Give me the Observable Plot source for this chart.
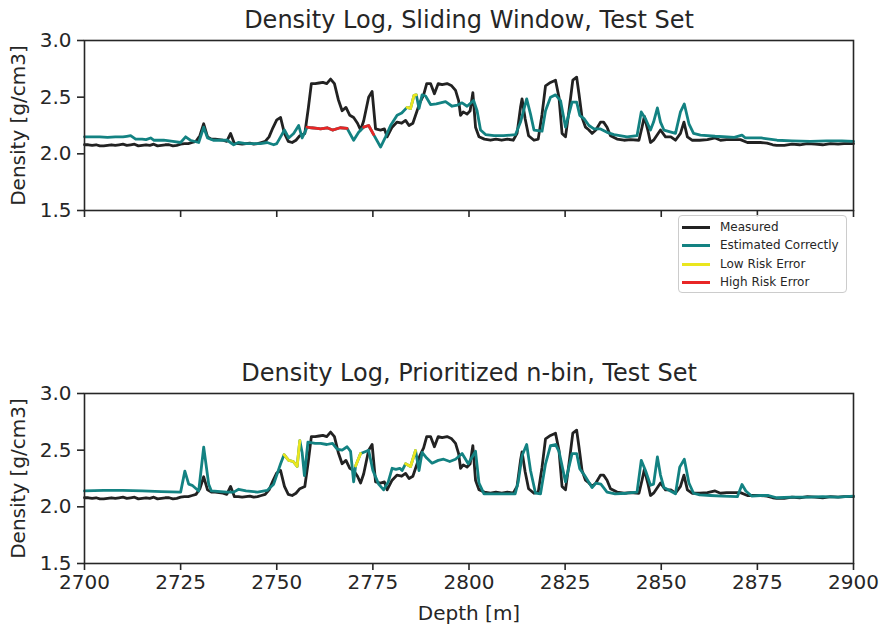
<!DOCTYPE html>
<html>
<head>
<meta charset="utf-8">
<script src="https://cdn.jsdelivr.net/npm/d3@7"></script>
<script src="https://cdn.jsdelivr.net/npm/@observablehq/plot@0.6"></script>
<style>
  html, body { margin: 0; padding: 0; background: #fff; }
  #chart { position: relative; width: 883px; height: 628px; font-family: "DejaVu Sans", sans-serif; color: #262626; }
  #chart svg { position: absolute; left: 0; }
  .legend { position: absolute; left: 678px; top: 215px; width: 167px; height: 76px; border: 1px solid #cccccc; border-radius: 4px; background: rgba(255,255,255,0.85); font-size: 12px; }
  .legend .row { position: absolute; left: 0; height: 16px; line-height: 16px; white-space: nowrap; }
  .legend .sw { position: absolute; left: 3px; top: 7px; width: 28px; height: 3px; }
  .legend .lab { position: absolute; left: 41px; top: 0; }
</style>
</head>
<body>
<div id="chart"></div>
<script>
// ---------- data ----------
const xTicks = [2700, 2725, 2750, 2775, 2800, 2825, 2850, 2875, 2900];
const yTicks = [1.5, 2.0, 2.5, 3.0];
const titles = ["Density Log, Sliding Window, Test Set", "Density Log, Prioritized n-bin, Test Set"];
const seriesNames = ["Measured", "Estimated Correctly", "Low Risk Error", "High Risk Error"];
const seriesColors = ["#222222", "#138282", "#eae61e", "#e82626"];

const measuredDepth = [2700,2701,2702,2703,2704,2705,2706,2707,2708,2709,2710,2711,2712,2713,2714,2715,2716,2717,2718,2719,2720,2721,2722,2723,2724,2725,2726,2727,2728,2729,2730,2731,2732,2733,2734,2735,2736,2737,2738,2739,2740,2741,2742,2743,2744,2745,2746,2747,2748,2749,2750,2751,2752,2753,2754,2755,2756,2757.3,2758.2,2759,2760,2761,2762,2763,2764,2765,2766,2767,2768,2769,2770,2771,2771.8,2772.6,2773.9,2774.8,2775.7,2777,2778,2778.7,2780,2781.3,2782.5,2783.5,2784.4,2785.4,2786.5,2787.2,2788.2,2789,2790,2791,2792,2793,2794.3,2795.5,2796.5,2797.3,2797.8,2798.5,2799.5,2800.3,2801,2801.7,2802.6,2804,2805.6,2807,2808.5,2810,2811.5,2812.5,2813.4,2813.8,2814.6,2815.5,2816.9,2818,2819,2819.9,2821.2,2822.5,2823.4,2824.2,2825.1,2826,2827,2828,2828.6,2829.4,2830.3,2831.2,2832,2833,2834.2,2835,2835.9,2836.8,2838.5,2840.3,2842,2844.2,2845,2845.6,2846.5,2847.2,2848,2849.8,2851.1,2852.5,2853.7,2855,2855.9,2856.8,2858,2860,2862,2864,2865.4,2867,2869,2870.6,2872.4,2874,2875.8,2877.5,2879,2880,2882,2884,2886,2888,2890,2892,2894,2896,2897.5,2900];
const measuredDensity = [2.08,2.08,2.075,2.08,2.07,2.07,2.075,2.08,2.075,2.08,2.085,2.075,2.08,2.085,2.07,2.075,2.08,2.075,2.085,2.07,2.075,2.08,2.08,2.07,2.075,2.085,2.09,2.09,2.10,2.11,2.16,2.265,2.15,2.13,2.13,2.125,2.12,2.11,2.18,2.09,2.09,2.085,2.09,2.095,2.085,2.09,2.10,2.11,2.15,2.23,2.30,2.32,2.18,2.11,2.10,2.12,2.16,2.18,2.40,2.62,2.62,2.625,2.63,2.62,2.66,2.62,2.48,2.38,2.41,2.34,2.32,2.27,2.21,2.29,2.50,2.55,2.22,2.21,2.22,2.15,2.235,2.28,2.27,2.295,2.25,2.27,2.38,2.45,2.52,2.62,2.62,2.53,2.62,2.61,2.62,2.60,2.56,2.47,2.34,2.37,2.35,2.38,2.54,2.235,2.15,2.13,2.12,2.13,2.12,2.13,2.12,2.18,2.41,2.485,2.31,2.16,2.12,2.13,2.35,2.60,2.63,2.65,2.50,2.18,2.15,2.38,2.65,2.676,2.53,2.32,2.235,2.21,2.18,2.21,2.28,2.28,2.235,2.16,2.13,2.12,2.125,2.12,2.235,2.33,2.21,2.10,2.12,2.21,2.15,2.15,2.12,2.18,2.28,2.15,2.12,2.12,2.125,2.14,2.12,2.125,2.125,2.125,2.10,2.10,2.10,2.095,2.08,2.075,2.075,2.085,2.08,2.09,2.085,2.08,2.09,2.085,2.09,2.09];

// Top panel (Sliding Window) estimate
const topEstDepth = [2700,2702,2704,2706,2708,2710,2711,2712,2713.3,2715,2716,2717.2,2718,2720.6,2723,2725,2726.3,2727.5,2729.7,2731,2732,2733.5,2735,2737.1,2738.8,2740,2742,2744,2745.8,2747.5,2749.2,2750,2751,2752,2753.1,2754.4,2755.7,2756.6,2757.3,2757.9,2759,2760.5,2761.4,2763.1,2764.5,2766.5,2768.3,2770,2771.3,2772.6,2773.9,2775.2,2777,2778.3,2779.6,2781.3,2782.5,2783.9,2784.8,2785.7,2786.3,2787,2787.8,2788.7,2790,2791.5,2793.9,2795.6,2797,2798.2,2799.5,2801.2,2802.1,2803,2804.3,2806.5,2809,2812.1,2813.4,2815,2816,2816.9,2819,2819.9,2821.2,2822.5,2823.8,2825.1,2826.8,2828,2828.8,2829.9,2831.2,2832.5,2834.2,2835.9,2837.7,2841.1,2843.7,2844.8,2845.9,2847.2,2848,2849,2849.8,2850.7,2853.7,2855,2856,2857.2,2858.4,2860.2,2864,2867.1,2869,2871,2871.9,2876,2880.1,2884,2888.8,2893,2897,2900];
const topEstDensity = [2.15,2.15,2.15,2.145,2.15,2.15,2.155,2.16,2.13,2.13,2.125,2.14,2.12,2.12,2.11,2.10,2.15,2.12,2.10,2.235,2.14,2.12,2.12,2.12,2.08,2.10,2.09,2.09,2.09,2.10,2.08,2.09,2.15,2.21,2.14,2.18,2.25,2.14,2.19,2.235,2.23,2.225,2.22,2.23,2.21,2.23,2.225,2.12,2.19,2.235,2.25,2.17,2.06,2.15,2.25,2.34,2.36,2.41,2.40,2.515,2.52,2.40,2.52,2.51,2.435,2.44,2.46,2.42,2.43,2.45,2.42,2.47,2.38,2.21,2.17,2.16,2.16,2.17,2.28,2.485,2.35,2.21,2.20,2.38,2.50,2.52,2.47,2.235,2.456,2.456,2.34,2.31,2.25,2.22,2.22,2.19,2.17,2.15,2.16,2.37,2.31,2.21,2.28,2.405,2.28,2.21,2.18,2.37,2.44,2.265,2.18,2.165,2.155,2.15,2.145,2.165,2.14,2.14,2.12,2.115,2.11,2.115,2.115,2.11];
// Top panel error segments
const topErrSegment = [1,1,1,1,1,1,1,1, 2,2,2, 3,3,3,3];
const topErrType    = ["High Risk Error","High Risk Error","High Risk Error","High Risk Error","High Risk Error","High Risk Error","High Risk Error","High Risk Error","High Risk Error","High Risk Error","High Risk Error","Low Risk Error","Low Risk Error","Low Risk Error","Low Risk Error"];
const topErrDepth   = [2757.9,2759,2760.5,2761.4,2763.1,2764.5,2766.5,2768.3, 2772.6,2773.9,2775.2, 2783.9,2784.8,2785.7,2786.3];
const topErrDensity = [2.235,2.23,2.225,2.22,2.23,2.21,2.23,2.225, 2.235,2.25,2.17, 2.41,2.40,2.515,2.52];

// Bottom panel (Prioritized n-bin) estimate
const botEstDepth = [2700,2705,2710,2715,2720,2725,2726.1,2727.1,2728,2729.7,2731,2732.3,2733,2737,2738.8,2740.1,2742,2745,2747.5,2749.2,2751,2751.9,2753.1,2754.3,2755.3,2756,2756.6,2757.2,2758.1,2760,2761.4,2763,2764.5,2765.7,2767,2768.3,2769.2,2770,2770.5,2771.8,2772.5,2773.9,2775,2776.5,2777.8,2779,2780,2781,2782,2782.6,2783.5,2784.8,2786.1,2787,2787.8,2789,2790.4,2792,2793.4,2795,2796.5,2798.2,2799.8,2801.7,2802.6,2803.9,2807,2810,2812,2812.8,2813.8,2815,2816,2817.3,2818.6,2819.9,2821.2,2822.5,2823.4,2825.1,2826.8,2828,2828.8,2830,2832,2833,2834.3,2835.9,2838,2841,2843.7,2844.8,2845.9,2847.2,2848,2849,2849.8,2850.7,2853.7,2854.8,2856,2857.2,2858.4,2860,2862.8,2866,2869.8,2871,2872,2873.5,2875.8,2877.9,2880,2884,2888,2892,2896,2900];
const botEstDensity = [2.14,2.145,2.145,2.14,2.135,2.13,2.315,2.20,2.19,2.14,2.526,2.20,2.14,2.13,2.13,2.155,2.14,2.13,2.145,2.20,2.38,2.46,2.41,2.40,2.356,2.585,2.48,2.276,2.57,2.56,2.56,2.55,2.56,2.51,2.50,2.53,2.49,2.22,2.36,2.47,2.48,2.50,2.32,2.20,2.15,2.22,2.34,2.33,2.34,2.32,2.38,2.356,2.497,2.32,2.48,2.43,2.385,2.41,2.42,2.40,2.42,2.47,2.38,2.49,2.21,2.115,2.115,2.115,2.115,2.22,2.45,2.55,2.32,2.12,2.115,2.38,2.54,2.55,2.49,2.22,2.47,2.47,2.336,2.28,2.17,2.21,2.20,2.13,2.115,2.12,2.13,2.41,2.32,2.19,2.20,2.44,2.28,2.17,2.115,2.35,2.42,2.21,2.12,2.105,2.10,2.095,2.09,2.197,2.14,2.095,2.10,2.10,2.08,2.085,2.085,2.09,2.085,2.095];
// Bottom panel error segments
const botErrSegment = [1,1,1,1,1, 2,2, 3,3,3];
const botErrType    = ["Low Risk Error","Low Risk Error","Low Risk Error","Low Risk Error","Low Risk Error","Low Risk Error","Low Risk Error","Low Risk Error","Low Risk Error","Low Risk Error"];
const botErrDepth   = [2751.9,2753.1,2754.3,2755.3,2756, 2770.5,2771.8, 2783.5,2784.8,2786.1];
const botErrDensity = [2.46,2.41,2.40,2.356,2.585, 2.36,2.47, 2.38,2.356,2.497];

// ---------- drawing ----------
const ink = "#262626";
const colorOf = Object.fromEntries(seriesNames.map((n, i) => [n, seriesColors[i]]));
const toRows = (xs, ys) => xs.map((x, i) => ({depth: x, density: ys[i]}));

function panel({title, estDepth, estDensity, errSeg, errType, errDepth, errDensity, showX, height, marginBottom}) {
  const measured = toRows(measuredDepth, measuredDensity);
  const est = toRows(estDepth, estDensity);
  const err = errDepth.map((x, i) => ({depth: x, density: errDensity[i], seg: errSeg[i], type: errType[i]}));
  const marks = [
    Plot.axisY({ticks: yTicks, tickFormat: d3.format(".1f"), tickSize: 7, tickPadding: 6, fontSize: 20, label: null, stroke: ink, strokeWidth: 1.6}),
    Plot.axisX({ticks: xTicks, tickSize: 7, tickPadding: 4, fontSize: 20, label: null, stroke: ink, strokeWidth: 1.6,
                tickFormat: showX ? (d => String(d)) : (() => "")}),
    Plot.line(measured, {x: "depth", y: "density", stroke: colorOf["Measured"], strokeWidth: 2.8, strokeLinejoin: "round"}),
    Plot.line(est, {x: "depth", y: "density", stroke: colorOf["Estimated Correctly"], strokeWidth: 2.8, strokeLinejoin: "round"}),
    Plot.line(err, {x: "depth", y: "density", z: "seg", stroke: d => colorOf[d.type], strokeWidth: 2.8, strokeLinejoin: "round"}),
    Plot.frame({stroke: ink, strokeWidth: 1.6}),
    Plot.text([title], {frameAnchor: "top", lineAnchor: "top", dy: -30, fontSize: 24, fill: ink}),
    Plot.text(["Density [g/cm3]"], {frameAnchor: "left", textAnchor: "middle", lineAnchor: "middle", dx: -66, rotate: -90, fontSize: 20, fill: ink})
  ];
  if (showX) marks.push(Plot.text(["Depth [m]"], {frameAnchor: "bottom", lineAnchor: "middle", dy: 50, fontSize: 20, fill: ink}));
  return Plot.plot({
    width: 883, height,
    marginLeft: 84, marginRight: 30, marginTop: 40, marginBottom,
    x: {domain: [2700, 2900]},
    y: {domain: [1.5, 3.0]},
    style: {fontFamily: "DejaVu Sans", fontSize: "20px", color: ink, background: "transparent", overflow: "visible"},
    marks
  });
}

const root = document.getElementById("chart");
const topPanel = panel({title: titles[0], estDepth: topEstDepth, estDensity: topEstDensity,
  errSeg: topErrSegment, errType: topErrType, errDepth: topErrDepth, errDensity: topErrDensity,
  showX: false, height: 235, marginBottom: 25});
topPanel.style.top = "0px";
root.appendChild(topPanel);

const botPanel = panel({title: titles[1], estDepth: botEstDepth, estDensity: botEstDensity,
  errSeg: botErrSegment, errType: botErrType, errDepth: botErrDepth, errDensity: botErrDensity,
  showX: true, height: 275, marginBottom: 65});
botPanel.style.top = "353px";
root.appendChild(botPanel);

// legend
const leg = document.createElement("div");
leg.className = "legend";
const rowTops = [3, 21.3, 39.7, 58];
seriesNames.forEach((name, i) => {
  const row = document.createElement("div");
  row.className = "row";
  row.style.top = Math.round(rowTops[i]) + "px";
  const sw = document.createElement("div");
  sw.className = "sw";
  sw.style.background = seriesColors[i];
  const lab = document.createElement("span");
  lab.className = "lab";
  lab.textContent = name;
  row.appendChild(sw); row.appendChild(lab);
  leg.appendChild(row);
});
root.appendChild(leg);
</script>
</body>
</html>
